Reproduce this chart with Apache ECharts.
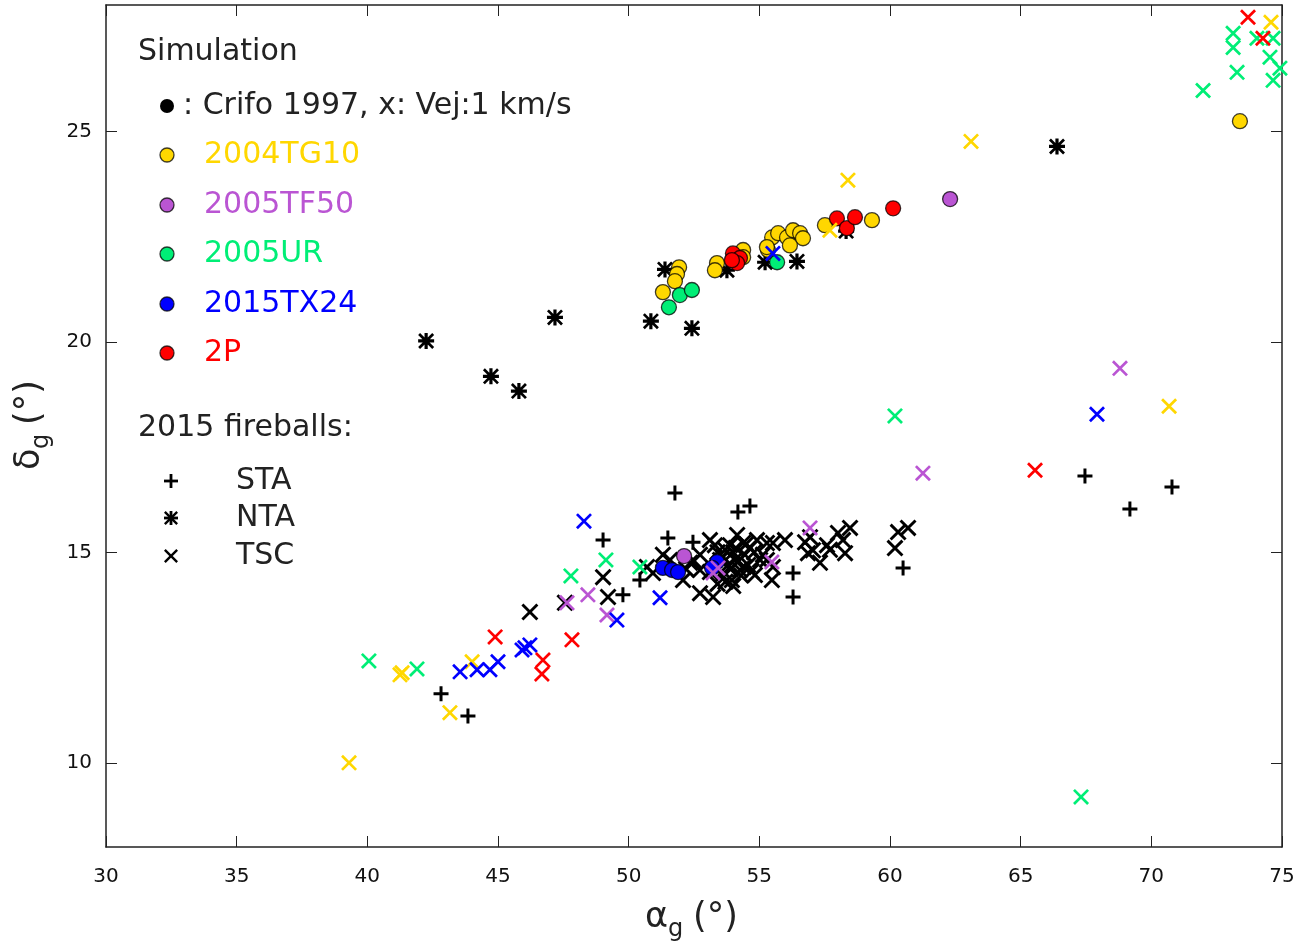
<!DOCTYPE html>
<html>
<head>
<meta charset="utf-8">
<script src="https://cdn.jsdelivr.net/npm/echarts@6/dist/echarts.min.js"></script>
<style>
  html, body { margin: 0; padding: 0; background: #fff; }
  #chart { width: 1312px; height: 948px; }
</style>
</head>
<body>
<div id="chart"></div>
<script>
// ---- data: [alpha_g, delta_g] in degrees ----
// 2015 fireballs
const staFireballs = [
  [51.77, 16.41], [54.18, 15.96], [54.64, 16.10], [49.02, 15.29], [51.50, 15.34],
  [52.46, 15.24], [49.78, 13.99], [50.43, 14.34], [56.29, 14.51], [56.29, 13.94],
  [60.50, 14.63], [67.46, 16.81], [69.18, 16.03], [70.79, 16.55], [42.82, 11.64],
  [43.85, 11.11]
];
const ntaFireballs = [
  [42.25, 20.02], [44.73, 19.18], [45.80, 18.83], [47.18, 20.58], [50.85, 20.49],
  [52.42, 20.32], [51.39, 21.72], [53.76, 21.70], [55.22, 21.89], [56.44, 21.91],
  [58.32, 22.63], [66.39, 24.64]
];
const tscFireballs = [
  [46.22, 13.58], [47.56, 13.80], [49.02, 14.41], [49.21, 13.94], [50.70, 14.65],
  [50.93, 14.51], [52.08, 14.34], [52.73, 14.03], [53.23, 13.94], [53.11, 14.53],
  [53.11, 15.29], [52.73, 14.94], [52.35, 14.75], [51.58, 14.82], [51.31, 14.94],
  [53.50, 14.82], [53.69, 15.06], [53.88, 15.17], [54.07, 14.82], [54.26, 14.58],
  [54.45, 14.94], [54.64, 15.10], [54.15, 15.41], [53.95, 14.34], [54.83, 14.46],
  [54.91, 15.29], [55.03, 14.82], [54.57, 14.70], [53.80, 14.70], [54.38, 15.22],
  [55.29, 15.22], [55.14, 14.94], [55.52, 15.22], [55.52, 14.65], [55.48, 14.34],
  [55.29, 14.82], [55.98, 15.29], [56.75, 15.24], [56.94, 15.36], [57.05, 15.05],
  [56.86, 14.98], [57.32, 14.75], [57.59, 15.17], [57.70, 15.06], [58.01, 15.46],
  [58.20, 15.29], [58.28, 14.98], [58.47, 15.58], [60.19, 15.10], [60.31, 15.48],
  [60.69, 15.58], [53.30, 15.17], [53.57, 14.46], [52.73, 14.58], [54.00, 15.00],
  [54.30, 14.45], [53.40, 14.25], [54.70, 14.55], [53.60, 14.90], [53.90, 14.60],
  [54.20, 14.80], [54.50, 15.20], [54.10, 15.10], [53.70, 14.30], [54.40, 14.65],
  [54.00, 14.20], [54.80, 15.00], [53.40, 15.00], [52.50, 14.80], [52.20, 14.60]
];

// simulations, Crifo 1997 (circles)
const tg10Crifo = [
  [51.93, 21.77], [51.85, 21.61], [51.77, 21.44], [51.31, 21.18], [53.38, 21.87],
  [53.30, 21.70], [54.38, 22.18], [54.38, 22.01], [55.33, 22.18], [55.49, 22.48],
  [55.72, 22.58], [56.06, 22.48], [56.29, 22.65], [56.56, 22.58], [56.67, 22.46],
  [56.17, 22.29], [55.29, 22.25], [57.51, 22.77], [59.31, 22.89], [73.39, 25.24]
];
const tf50Crifo = [[62.30, 23.39], [52.12, 14.91]];
const urCrifo = [[51.54, 20.82], [51.96, 21.11], [52.42, 21.23], [55.68, 21.89]];
const tx24Crifo = [[51.31, 14.63], [51.66, 14.58], [51.89, 14.53], [53.38, 14.77], [53.19, 14.63]];
const p2Crifo = [
  [53.99, 22.10], [54.26, 21.99], [54.15, 21.87], [53.95, 21.94], [57.97, 22.93],
  [58.35, 22.70], [58.66, 22.96], [60.12, 23.17]
];

// simulations, Vej 1 km/s (crosses)
const tg10Vej = [
  [39.30, 10.00], [41.33, 12.14], [41.25, 12.09], [43.16, 11.19], [44.01, 12.40],
  [57.70, 22.65], [58.39, 23.84], [63.10, 24.76], [70.68, 18.47], [74.58, 27.59]
];
const tf50Vej = [
  [68.80, 19.37], [61.26, 16.88], [47.64, 13.80], [48.44, 13.99], [49.17, 13.51],
  [56.94, 15.58], [55.48, 14.77], [53.23, 14.51], [53.42, 14.63]
];
const urVej = [
  [40.06, 12.42], [41.90, 12.23], [49.13, 14.82], [47.79, 14.44], [50.43, 14.65],
  [60.19, 18.24], [67.31, 9.19], [71.98, 25.97], [73.13, 27.33], [73.13, 26.99],
  [73.28, 26.40], [74.04, 27.21], [74.66, 27.21], [74.54, 26.76], [74.92, 26.50],
  [74.66, 26.21]
];
const tx24Vej = [
  [48.29, 15.74], [67.92, 18.28], [43.55, 12.16], [44.20, 12.21], [44.69, 12.21],
  [45.00, 12.40], [45.92, 12.68], [46.03, 12.73], [46.22, 12.80], [49.55, 13.39],
  [51.20, 13.92], [55.52, 22.10]
];
const p2Vej = [
  [44.89, 12.99], [47.83, 12.92], [46.72, 12.44], [46.68, 12.11], [65.55, 16.95],
  [73.70, 27.71], [74.27, 27.21]
];

const yTicks = [10, 15, 20, 25];

const GOLD = '#ffd700', PURPLE = '#ba55d3', GREEN = '#00ee76', BLUE = '#0000ff', RED = '#ff0000';
const FONT = 'DejaVu Sans';
const INK = '#222';

// marker shapes, each a list of polygons in a 10x10 box
const X_POLYS = [[[0, 1.2], [1.2, 0], [10, 8.8], [8.8, 10]], [[8.8, 0], [10, 1.2], [1.2, 10], [0, 8.8]]];
const PLUS_POLYS = [[[4, 0], [6, 0], [6, 10], [4, 10]], [[0, 4], [10, 4], [10, 6], [0, 6]]];
const STAR_POLYS = PLUS_POLYS.concat(X_POLYS);
const toPath = polys => 'path://' + polys.map(p => 'M' + p.map(q => q.join(',')).join(' L') + ' Z').join(' ');

const chart = echarts.init(document.getElementById('chart'));

function cross(name, data, color) {
  return { name, type: 'scatter', data, symbol: toPath(X_POLYS), symbolSize: 16,
    itemStyle: { color, opacity: 1 }, z: 3 };
}
function dot(name, data, color) {
  return { name, type: 'scatter', data, symbol: 'circle', symbolSize: 15,
    itemStyle: { color, borderColor: 'rgba(0,0,0,0.75)', borderWidth: 1.3, opacity: 1 }, z: 2 };
}
function label(text, x, y, fill, size) {
  return { type: 'text', x, y, style: { text, font: (size || 30) + 'px ' + FONT, fill: fill || INK, verticalAlign: 'middle' } };
}
function marker(polys, cx, cy, size) {
  const s = size / 10;
  return { type: 'group', children: polys.map(p => ({
    type: 'polygon', shape: { points: p.map(q => [cx - size / 2 + q[0] * s, cy - size / 2 + q[1] * s]) },
    style: { fill: '#000' } })) };
}

const legendItems = [
  ['2004TG10', GOLD, 155], ['2005TF50', PURPLE, 205], ['2005UR', GREEN, 254], ['2015TX24', BLUE, 304], ['2P', RED, 353]
];
const graphics = [
  label('Simulation', 138, 52),
  { type: 'circle', shape: { cx: 167, cy: 106, r: 7 }, style: { fill: '#000' } },
  label(': Crifo 1997, x: Vej:1 km/s', 183, 106),
  label('2015 fireballs:', 138, 428)
];
legendItems.forEach(it => {
  graphics.push({ type: 'circle', shape: { cx: 167, cy: it[2], r: 7 },
    style: { fill: it[1], stroke: 'rgba(0,0,0,0.75)', lineWidth: 1.3 } });
  graphics.push(label(it[0], 204, it[2], it[1]));
});
[['STA', PLUS_POLYS, 481], ['NTA', STAR_POLYS, 518], ['TSC', X_POLYS, 556]].forEach(it => {
  graphics.push(marker(it[1], 171, it[2], 14));
  graphics.push(label(it[0], 236, it[2]));
});
// axis titles with subscripts
graphics.push({
  type: 'group', x: 645, y: 918,
  children: [label('α', 0, 0, INK, 35), label('g', 23, 12, INK, 24), label('(°)', 48, 0, INK, 35)]
});
graphics.push({
  type: 'group', x: 30, y: 470, rotation: Math.PI / 2,
  children: [label('δ', 0, 0, INK, 35), label('g', 21, 12, INK, 24), label('(°)', 45, 0, INK, 35)]
});

const lineStyle = { color: INK, width: 1.5 };
const tick = { show: true, inside: true, length: 11, lineStyle: { color: INK } };
const option = {
  animation: false,
  backgroundColor: '#fff',
  grid: { left: 106, right: 30, top: 5, bottom: 101 },
  xAxis: [
    { type: 'value', min: 30, max: 75, interval: 5, position: 'bottom',
      axisLine: { lineStyle }, axisTick: tick,
      axisLabel: { margin: 20, fontSize: 20, fontFamily: FONT, color: '#111' }, splitLine: { show: false } },
    { type: 'value', min: 30, max: 75, interval: 5, position: 'top',
      axisLine: { lineStyle }, axisTick: tick,
      axisLabel: { show: false }, splitLine: { show: false } }
  ],
  yAxis: [
    { type: 'value', min: 8, max: 28, position: 'left',
      axisLine: { show: true, lineStyle }, axisTick: Object.assign({ customValues: yTicks }, tick),
      axisLabel: { customValues: yTicks, margin: 14, fontSize: 20, fontFamily: FONT, color: '#111' }, splitLine: { show: false } },
    { type: 'value', min: 8, max: 28, position: 'right',
      axisLine: { show: true, lineStyle }, axisTick: Object.assign({ customValues: yTicks }, tick),
      axisLabel: { show: false, customValues: yTicks }, splitLine: { show: false } }
  ],
  graphic: graphics,
  series: [
    { name: 'STA', type: 'scatter', data: staFireballs, symbol: toPath(PLUS_POLYS), symbolSize: 15, itemStyle: { color: '#000', opacity: 1 }, z: 1 },
    { name: 'NTA', type: 'scatter', data: ntaFireballs, symbol: toPath(STAR_POLYS), symbolSize: 16, itemStyle: { color: '#000', opacity: 1 }, z: 1 },
    { name: 'TSC', type: 'scatter', data: tscFireballs, symbol: toPath(X_POLYS), symbolSize: 17, itemStyle: { color: '#000', opacity: 1 }, z: 1 },
    dot('2004TG10', tg10Crifo, GOLD),
    dot('2005TF50', tf50Crifo, PURPLE),
    dot('2005UR', urCrifo, GREEN),
    dot('2015TX24', tx24Crifo, BLUE),
    dot('2P', p2Crifo, RED),
    cross('2004TG10 Vej', tg10Vej, GOLD),
    cross('2005TF50 Vej', tf50Vej, PURPLE),
    cross('2005UR Vej', urVej, GREEN),
    cross('2015TX24 Vej', tx24Vej, BLUE),
    cross('2P Vej', p2Vej, RED)
  ]
};
chart.setOption(option);
</script>
</body>
</html>
